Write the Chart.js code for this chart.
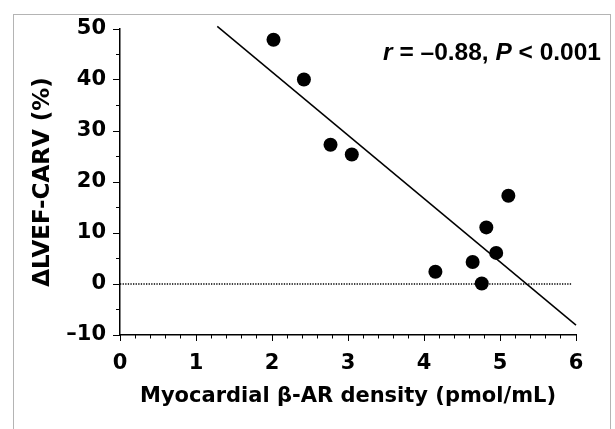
<!DOCTYPE html>
<html><head><meta charset="utf-8">
<script src="https://cdn.jsdelivr.net/npm/chart.js@4.4.1/dist/chart.umd.min.js"></script>
<style>
html,body{margin:0;padding:0;background:#fff;}
#wrap{position:relative;width:615px;height:429px;overflow:hidden;background:#fff;}
#frame{position:absolute;left:13px;top:14px;width:596px;height:440px;border:1px solid #b4b4b4;pointer-events:none;}
canvas{position:absolute;left:0;top:0;}
</style></head><body>
<div id="wrap"><div id="frame"></div><canvas id="c" width="615" height="429"></canvas></div>
<script>
// Scatter data
const betaAR = [2.02, 2.42, 2.77, 3.05, 4.15, 4.64, 4.76, 4.82, 4.95, 5.11];
const dLVEF  = [47.9, 40.1, 27.3, 25.4, 2.4, 4.3, 0.1, 11.1, 6.1, 17.3];
// Regression line end points
const fitX = [1.28, 6];
const fitY = [50.5, -8.05];
// Dotted reference line at zero
const zeroX = [0, 5.95];
const zeroY = [0, 0];
// Axis ticks
const xTicks = [0, 1, 2, 3, 4, 5, 6];
const yTicks = [-10, 0, 10, 20, 30, 40, 50];
const xMinorStep = 0.2;
const yMinorStep = 5;
// Texts
const xTitle = 'Myocardial \u03B2-AR density (pmol/mL)';
const yTitle = '\u0394LVEF-CARV (%)';
const statParts = [['r', true], [' = \u20130.88, ', false], ['P', true], [' < 0.001', false]];

const wide = '"DejaVu Sans", Verdana, sans-serif';
const narrow = '"Liberation Sans", Arial, Helvetica, sans-serif';

const statPlugin = {
  id: 'statText',
  afterDraw(chart) {
    const {ctx, chartArea} = chart;
    ctx.save();
    ctx.fillStyle = '#000';
    ctx.textBaseline = 'alphabetic';
    ctx.textAlign = 'left';
    const fontFor = it => (it ? 'italic ' : '') + 'bold 24.5px ' + narrow;
    const widths = statParts.map(([t, it]) => { ctx.font = fontFor(it); return ctx.measureText(t).width; });
    let x = chartArea.right + 25 - widths.reduce((a, b) => a + b, 0);
    const y = chartArea.top + 31;
    statParts.forEach(([t, it], i) => { ctx.font = fontFor(it); ctx.fillText(t, x, y); x += widths[i]; });
    ctx.restore();
  }
};

const dash = v => String(v).replace('-', '\u2013');

new Chart(document.getElementById('c'), {
  type: 'scatter',
  data: {
    datasets: [
      {
        label: 'Patients',
        data: betaAR.map((x, i) => ({x, y: dLVEF[i]})),
        xAxisID: 'x', yAxisID: 'y',
        pointRadius: 7, pointHoverRadius: 7,
        backgroundColor: '#000', borderColor: '#000', borderWidth: 0,
        order: 1
      },
      {
        type: 'line',
        label: 'Regression',
        data: fitX.map((x, i) => ({x, y: fitY[i]})),
        xAxisID: 'x', yAxisID: 'y',
        borderColor: '#000', borderWidth: 1.5,
        pointRadius: 0, fill: false, clip: false,
        order: 2
      },
      {
        type: 'line',
        label: 'Zero',
        data: zeroX.map((x, i) => ({x, y: zeroY[i]})),
        xAxisID: 'x', yAxisID: 'y',
        borderColor: '#000', borderWidth: 1.3, borderDash: [1.3, 1.3],
        pointRadius: 0, fill: false,
        order: 3
      }
    ]
  },
  options: {
    responsive: false,
    animation: false,
    devicePixelRatio: 1,
    layout: {padding: {top: 29, right: 39, bottom: 0, left: 0}},
    plugins: {legend: {display: false}, tooltip: {enabled: false}},
    scales: {
      x: {
        type: 'linear', axis: 'x', position: 'bottom', weight: 0,
        min: 0, max: 6,
        afterBuildTicks: s => { s.ticks = xTicks.map(v => ({value: v})); },
        afterFit: s => { s.height = 94; },
        grid: {drawOnChartArea: false, tickLength: 6, color: '#000', lineWidth: 1},
        border: {color: '#000', width: 1.5},
        ticks: {autoSkip: false, maxRotation: 0, color: '#000', padding: 10,
                font: {family: wide, size: 21, weight: 'bold'}, callback: dash},
        title: {display: true, text: xTitle, color: '#000',
                font: {family: wide, size: 21, weight: 'bold'}, padding: {top: 0, bottom: 20}}
      },
      xMinor: {
        type: 'linear', axis: 'x', position: 'bottom', weight: -1,
        min: 0, max: 6,
        afterFit: s => { s.height = 0; },
        grid: {drawOnChartArea: false, tickLength: 3.5, color: '#000', lineWidth: 1},
        border: {display: false},
        ticks: {display: false, stepSize: xMinorStep}
      },
      y: {
        type: 'linear', axis: 'y', position: 'left', weight: 0,
        min: -10, max: 50,
        afterBuildTicks: s => { s.ticks = yTicks.map(v => ({value: v})); },
        afterFit: s => { s.width = 120; },
        grid: {drawOnChartArea: false, tickLength: 7, color: '#000', lineWidth: 1},
        border: {color: '#000', width: 1.5},
        ticks: {autoSkip: false, color: '#000', padding: 7,
                font: {family: wide, size: 21, weight: 'bold'}, callback: dash},
        title: {display: true, text: yTitle, color: '#000',
                font: {family: wide, size: 23, weight: 'bold'}, padding: {top: 29, bottom: 0}}
      },
      yMinor: {
        type: 'linear', axis: 'y', position: 'left', weight: -1,
        min: -10, max: 50,
        afterFit: s => { s.width = 0; },
        grid: {drawOnChartArea: false, tickLength: 4, color: '#000', lineWidth: 1},
        border: {display: false},
        ticks: {display: false, stepSize: yMinorStep}
      }
    }
  },
  plugins: [statPlugin]
});
</script>
</body></html>
